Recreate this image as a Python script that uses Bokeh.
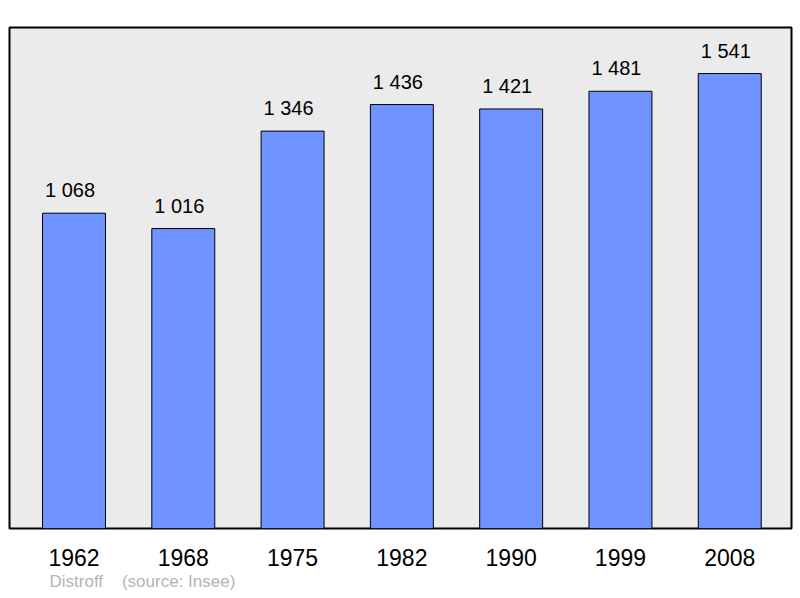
from bokeh.plotting import figure
from bokeh.models import ColumnDataSource, FixedTicker, Title
from bokeh.embed import file_html
from bokeh.resources import INLINE

years = ["1962", "1968", "1975", "1982", "1990", "1999", "2008"]
population = [1068, 1016, 1346, 1436, 1421, 1481, 1541]
value_labels = ["1 068", "1 016", "1 346", "1 436", "1 421", "1 481", "1 541"]
source_text = "Distroff\u00a0\u00a0\u00a0\u00a0(source: Insee)"

xs = list(range(len(years)))
src = ColumnDataSource(dict(x=xs, top=population, lab=value_labels))

p = figure(width=800, height=598, output_backend="svg", toolbar_location=None,
           x_range=(-0.59, 6.565), y_range=(0, 1697),
           min_border_left=9, min_border_right=9, min_border_top=27, min_border_bottom=70)
p.background_fill_color = "#ebebeb"
p.border_fill_color = "white"
p.outline_line_color = "black"
p.outline_line_width = 2
p.grid.visible = False
p.yaxis.visible = False

p.vbar(x="x", top="top", width=0.576, bottom=0, source=src,
       fill_color="#7094ff", line_color="black", line_width=1)
p.text(x="x", y="top", text="lab", source=src, text_align="center",
       text_baseline="alphabetic", y_offset=-23, x_offset=-4, text_font_size="20px",
       text_font={"value": "Liberation Sans"}, text_color="black")

xa = p.xaxis[0]
xa.ticker = FixedTicker(ticks=xs)
xa.major_label_overrides = {i: y for i, y in zip(xs, years)}
xa.axis_line_color = None
xa.major_tick_line_color = None
xa.minor_tick_line_color = None
xa.major_label_standoff = 14
xa.major_label_text_font = "Liberation Sans"
xa.major_label_text_font_size = "23px"
xa.major_label_text_color = "black"

p.add_layout(Title(text=source_text, align="left", offset=40, standoff=3,
                   text_font="Liberation Sans", text_font_size="17px",
                   text_font_style="normal", text_color="#b4b4b4"), "below")

open("out.html", "w").write(file_html(p, INLINE))
